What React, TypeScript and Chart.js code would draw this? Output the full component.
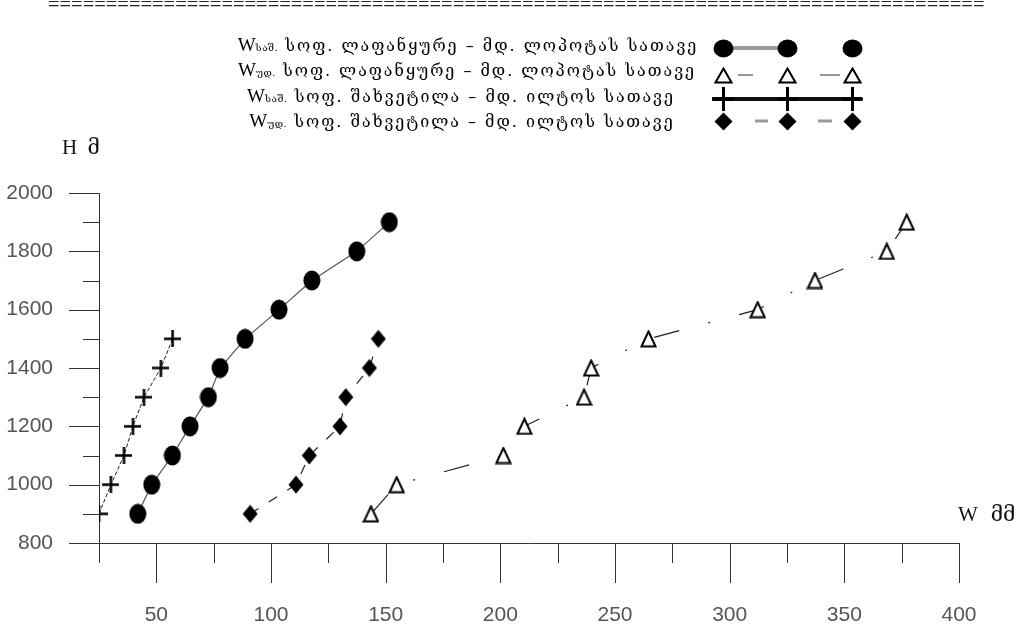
import React, { useEffect, useRef } from "react";
import { Chart, registerables } from "chart.js";

Chart.register(...registerables);

// ---- Data ----
const heightsLapankure = [900, 1000, 1100, 1200, 1300, 1400, 1500, 1600, 1700, 1800, 1900];
const wMeanLapankure = [41.9, 48, 57, 64.7, 72.7, 77.8, 88.7, 103.5, 117.8, 137.4, 151.6];
const wMaxLapankure = [143.6, 154.8, 201.3, 210.5, 236.5, 239.6, 264.6, 312.2, 337.2, 368.5, 377.2];

const heightsShakhvetila = [900, 1000, 1100, 1200, 1300, 1400, 1500];
const wMeanShakhvetila = [25, 30.2, 35.9, 39.8, 44.6, 52, 57.1];
const wMaxShakhvetila = [90.9, 110.9, 116.7, 130.1, 132.6, 142.9, 146.8];

const xTickLabels = [50, 100, 150, 200, 250, 300, 350, 400];
const yTickLabels = [800, 1000, 1200, 1400, 1600, 1800, 2000];

const legendLines = [
  { sub: "საშ.", text: " სოფ. ლაფანყურე – მდ. ლოპოტას სათავე" },
  { sub: "უდ.", text: " სოფ. ლაფანყურე – მდ. ლოპოტას სათავე" },
  { sub: "საშ.", text: " სოფ. შახვეტილა – მდ. ილტოს სათავე" },
  { sub: "უდ.", text: " სოფ. შახვეტილა – მდ. ილტოს სათავე" },
];

const toPoints = (xs: number[], ys: number[]) => xs.map((x, i) => ({ x, y: ys[i] }));

function makeCanvas(w: number, h: number, draw: (c: CanvasRenderingContext2D) => void) {
  const cv = document.createElement("canvas");
  cv.width = w;
  cv.height = h;
  const c = cv.getContext("2d")!;
  draw(c);
  return cv;
}

function ellipseMarker(w: number, h: number) {
  return makeCanvas(w, h, (c) => {
    c.fillStyle = "#000";
    c.beginPath();
    c.ellipse(w / 2, h / 2, w / 2 - 0.5, h / 2 - 0.5, 0, 0, Math.PI * 2);
    c.fill();
  });
}
function triangleMarker(w: number, h: number) {
  return makeCanvas(w, h, (c) => {
    c.fillStyle = "#fff";
    c.strokeStyle = "#000";
    c.lineWidth = 2;
    c.beginPath();
    c.moveTo(w / 2, 1.5);
    c.lineTo(w - 1.5, h - 1.5);
    c.lineTo(1.5, h - 1.5);
    c.closePath();
    c.fill();
    c.stroke();
  });
}
function crossMarker(w: number, h: number, lw: number) {
  return makeCanvas(w, h, (c) => {
    c.strokeStyle = "#000";
    c.lineWidth = lw;
    c.beginPath();
    c.moveTo(0, h / 2);
    c.lineTo(w, h / 2);
    c.moveTo(w / 2, 0);
    c.lineTo(w / 2, h);
    c.stroke();
  });
}
function diamondMarker(w: number, h: number) {
  return makeCanvas(w, h, (c) => {
    c.fillStyle = "#000";
    c.beginPath();
    c.moveTo(w / 2, 0.5);
    c.lineTo(w - 0.5, h / 2);
    c.lineTo(w / 2, h - 0.5);
    c.lineTo(0.5, h / 2);
    c.closePath();
    c.fill();
  });
}

export default function App() {
  const ref = useRef<HTMLCanvasElement | null>(null);

  useEffect(() => {
    if (!ref.current) return;
    const circle = ellipseMarker(18, 21);
    const tri = triangleMarker(17, 18);
    const cross = crossMarker(17, 17, 2.5);
    const diamond = diamondMarker(16, 19);

    const legCircle = ellipseMarker(21, 19);
    const legTri = triangleMarker(19, 17);
    const legCross = crossMarker(21, 24, 3);
    const legDiamond = diamondMarker(19, 19);

    const tickPlugin = {
      id: "customTicks",
      beforeDatasetsDraw(chart: any) {
        const ctx = chart.ctx;
        const xs = chart.scales.x;
        const ys = chart.scales.y;
        ctx.save();
        ctx.strokeStyle = "#333";
        ctx.lineWidth = 1;
        ctx.beginPath();
        xs.ticks.forEach((t: any) => {
          const px = Math.round(xs.getPixelForValue(t.value)) + 0.5;
          const len = xTickLabels.includes(t.value) ? 40 : 20;
          ctx.moveTo(px, xs.top);
          ctx.lineTo(px, xs.top + len);
        });
        ys.ticks.forEach((t: any) => {
          const py = Math.round(ys.getPixelForValue(t.value)) + 0.5;
          const len = yTickLabels.includes(t.value) ? 30 : 16;
          ctx.moveTo(ys.right, py);
          ctx.lineTo(ys.right - len, py);
        });
        ctx.stroke();
        ctx.restore();
      },
      afterDraw(chart: any) {
        const ctx = chart.ctx;
        ctx.save();
        const cx = [723, 787, 852];
        const put = (img: HTMLCanvasElement, x: number, y: number) =>
          ctx.drawImage(img, Math.round(x - img.width / 2), Math.round(y - img.height / 2));
        // row 1
        ctx.strokeStyle = "#999";
        ctx.lineWidth = 4;
        ctx.beginPath();
        ctx.moveTo(cx[0], 48);
        ctx.lineTo(cx[1], 48);
        ctx.stroke();
        cx.forEach((x) => put(legCircle, x, 48));
        // row 2
        ctx.strokeStyle = "#777";
        ctx.lineWidth = 1.5;
        ctx.beginPath();
        ctx.moveTo(738, 75);
        ctx.lineTo(753, 75);
        ctx.moveTo(820, 75);
        ctx.lineTo(840, 75);
        ctx.stroke();
        cx.forEach((x) => put(legTri, x, 75));
        // row 3
        ctx.strokeStyle = "#111";
        ctx.lineWidth = 4;
        ctx.beginPath();
        ctx.moveTo(712, 99);
        ctx.lineTo(862, 99);
        ctx.stroke();
        cx.forEach((x) => put(legCross, x, 99));
        // row 4
        ctx.strokeStyle = "#999";
        ctx.lineWidth = 3;
        ctx.beginPath();
        ctx.moveTo(755, 121);
        ctx.lineTo(768, 121);
        ctx.moveTo(818, 121);
        ctx.lineTo(832, 121);
        ctx.stroke();
        cx.forEach((x) => put(legDiamond, x, 121));
        ctx.restore();
      },
    };

    const tickFont = { family: "'Liberation Sans', Arial, sans-serif", size: 21 };

    const chart = new Chart(ref.current, {
      type: "scatter",
      data: {
        datasets: [
          {
            label: "Wსაშ. ლაფანყურე",
            data: toPoints(wMeanLapankure, heightsLapankure),
            showLine: true,
            borderColor: "#555",
            borderWidth: 1.2,
            pointStyle: circle,
            pointRadius: 9,
          },
          {
            label: "Wუდ. ლაფანყურე",
            data: toPoints(wMaxLapankure, heightsLapankure),
            showLine: true,
            borderColor: "#222",
            borderWidth: 1.2,
            borderDash: [26, 30, 2, 30],
            pointStyle: tri,
            pointRadius: 9,
          },
          {
            label: "Wსაშ. შახვეტილა",
            data: toPoints(wMeanShakhvetila, heightsShakhvetila),
            showLine: true,
            borderColor: "#222",
            borderWidth: 1,
            borderDash: [4, 2],
            pointStyle: cross,
            pointRadius: 9,
          },
          {
            label: "Wუდ. შახვეტილა",
            data: toPoints(wMaxShakhvetila, heightsShakhvetila),
            showLine: true,
            borderColor: "#222",
            borderWidth: 1.2,
            borderDash: [10, 12],
            pointStyle: diamond,
            pointRadius: 9,
          },
        ] as any,
      },
      options: {
        animation: false,
        responsive: false,
        layout: { padding: { left: 0, top: 193, right: 66, bottom: 0 } },
        plugins: { legend: { display: false }, tooltip: { enabled: false } },
        scales: {
          x: {
            type: "linear",
            min: 25,
            max: 400,
            grid: { display: false, drawTicks: false },
            border: { display: true, color: "#333", width: 1 },
            ticks: {
              stepSize: 25,
              padding: 60,
              color: "#555",
              font: tickFont,
              maxRotation: 0,
              autoSkip: false,
              callback: (v: any) => (xTickLabels.includes(Number(v)) ? String(v) : ""),
            },
            afterFit: (s: any) => {
              s.height = 89;
              s.paddingLeft = 0;
              s.paddingRight = 0;
            },
          },
          y: {
            type: "linear",
            min: 800,
            max: 2000,
            grid: { display: false, drawTicks: false },
            border: { display: true, color: "#333", width: 1 },
            ticks: {
              stepSize: 100,
              padding: 46,
              color: "#555",
              font: tickFont,
              autoSkip: false,
              callback: (v: any) => (yTickLabels.includes(Number(v)) ? String(v) : ""),
            },
            afterFit: (s: any) => {
              s.width = 99;
            },
          },
        },
      } as any,
      plugins: [tickPlugin],
    });
    return () => chart.destroy();
  }, []);

  const serif = "'Liberation Serif', 'DejaVu Serif', serif";
  const legendCenters = [468, 467, 461, 462];
  const legendY = [45, 70, 96, 121];

  return (
    <div style={{ position: "absolute", left: 0, top: 0, width: 1025, height: 632, background: "#fff", overflow: "hidden" }}>
      <canvas ref={ref} width={1025} height={632} style={{ position: "absolute", left: 0, top: 0 }} />
      <div
        style={{
          position: "absolute",
          left: 48,
          top: -6,
          width: 940,
          overflow: "hidden",
          whiteSpace: "nowrap",
          fontFamily: serif,
          fontSize: 20.5,
          lineHeight: 1,
          color: "#222",
        }}
      >
        {"=".repeat(81)}
      </div>
      {legendLines.map((l, i) => (
        <div
          key={i}
          style={{
            position: "absolute",
            left: legendCenters[i] - 300,
            width: 600,
            top: legendY[i] - 11,
            height: 22,
            lineHeight: "22px",
            textAlign: "center",
            whiteSpace: "nowrap",
            fontFamily: "'DejaVu Serif', serif",
            fontSize: 16,
            letterSpacing: 2,
            color: "#000",
          }}
        >
          <span style={{ fontFamily: serif, fontSize: 19, letterSpacing: 0 }}>W</span>
          <span style={{ fontSize: 10, letterSpacing: 0.5 }}>{l.sub}</span>
          {l.text}
        </div>
      ))}
      <div style={{ position: "absolute", left: 62, top: 135, fontFamily: serif, fontSize: 21, lineHeight: "24px", wordSpacing: 5, color: "#111", whiteSpace: "nowrap" }}>
        H მ
      </div>
      <div style={{ position: "absolute", left: 958, top: 502, fontFamily: serif, fontSize: 21, lineHeight: "24px", wordSpacing: 8, color: "#111", whiteSpace: "nowrap" }}>
        W მმ
      </div>
    </div>
  );
}
